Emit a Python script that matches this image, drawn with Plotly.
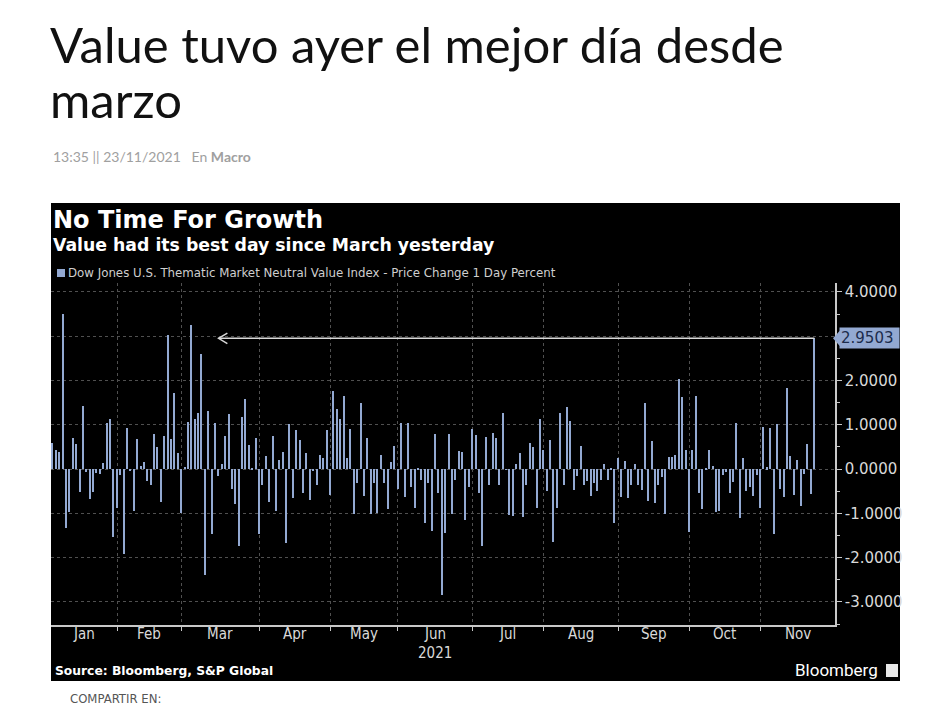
import plotly.graph_objects as go

# ---- data: Dow Jones U.S. Thematic Market Neutral Value Index, 1 day % change ----
jan = [0.58, 0.43, 0.39, 3.50, -1.32, -0.97, 0.70, 0.56, -0.51, 1.42, -0.06, -0.68, -0.51, -0.08,
       -0.11, 0.13, 1.05, 1.12, -1.54]
feb = [-0.89, -0.14, -1.92, 0.92, -0.04, -0.94, 0.67, 0.07, 0.16, -0.27, -0.37, 0.80, 0.50, -0.74,
       0.75, 3.03, 0.67, 1.71, 0.37]
mar = [-1.00, 0.05, 1.07, 3.26, 1.14, 1.27, 2.59, -2.39, 1.31, -1.47, 1.03, -0.16, 0.11, 0.75,
       1.24, -0.46, -0.79, -1.74, 1.17, 1.59, 0.54, 0.02, 0.71]
apr = [-1.47, -0.36, 0.30, -0.74, 0.75, -0.94, 0.20, 0.39, -1.68, 1.01, -0.66, 0.89, 0.65, -0.53,
       0.37, -0.70, -0.04, -0.35, 0.32, 0.24, 0.88]
may = [-0.59, 1.77, 1.35, 1.14, 1.65, 0.24, 0.90, -1.02, -0.31, 1.50, -0.61, 0.71, -1.02, -0.31,
       -1.00, 0.32, -0.31, -0.91, 0.17, 0.53]
jun = [-0.46, 1.03, -0.62, 1.05, -0.40, -0.89, 0.01, -0.25, -1.21, -0.31, -1.39, 0.79, -0.55,
       -2.84, -1.44, 0.80, -1.02, -0.25, 0.41, 0.39, -1.15, -0.40]
jul = [0.90, 0.77, -0.55, -1.74, 0.73, -0.37, 0.82, 0.69, -0.35, 1.26, -0.02, -1.04, -1.06, 0.11,
       0.37, -1.08, -0.37, 0.59, 0.49, -0.89, 1.12]
aug = [0.43, -0.49, 0.65, -1.64, -0.89, 1.27, -0.36, 1.39, 1.09, -0.47, -0.16, 0.52, -0.36, -0.27,
       -0.61, -0.31, -0.49, -0.25, 0.11, -0.25, 0.03, -1.21]
sep = [0.26, -0.62, 0.19, -0.66, -0.36, 0.11, -0.36, -0.47, 1.50, -0.72, 0.63, -0.76, -0.36, -0.17,
       -1.02, 0.28, 0.28, 0.32, 2.03, 1.63, 0.44]
oct_ = [-1.41, 0.44, 1.65, -0.55, -0.91, 0.03, 0.43, 0.07, -0.96, -0.94, -0.14, -0.06, -0.55, -0.29,
        1.05, -1.11, 0.26, -0.50, -0.40, -0.61, -0.14]
nov = [-0.87, 0.95, 0.04, 0.92, -1.47, 1.01, -0.46, -0.64, 1.83, 0.30, -0.59, 0.20, -0.83, -0.11,
       0.56, -0.57, 2.9503]

month_names = ['Jan', 'Feb', 'Mar', 'Apr', 'May', 'Jun', 'Jul', 'Aug', 'Sep', 'Oct', 'Nov']
months = [jan, feb, mar, apr, may, jun, jul, aug, sep, oct_, nov]
y_ticks = [-3, -2, -1, 0, 1, 2, 3, 4]

values = [v for m in months for v in m]
day_idx = list(range(len(values)))
month_start = []
n = 0
for m in months:
    month_start.append(n)
    n += len(m)

X_MIN, X_MAX = -0.5, len(values) + 5.1
edges = month_start + [X_MAX]
edges[0] = X_MIN
month_mid = [(edges[i] + edges[i + 1]) / 2 for i in range(len(months))]

# the page body has an 8px margin, so the figure is a bit smaller than the window
OFF = 8
W, H = 931 - OFF, 709 - OFF
def px(x):
    return (x - OFF) / W
def py(y):
    return 1 - (y - OFF) / H

BAR = '#93a9d2'
GRID = '#505050'
AXC = '#c8c8c8'
LBL = '#d9d9d9'
NARROW = 'Liberation Sans Narrow, DejaVu Sans Condensed, sans-serif'
LAST = values[-1]
ARROW_TIP = 49

# the last-value box sits on top of the 3.0000 label, so that one is left blank
tick_text = ['' if t == 3 else '%.4f' % t for t in y_ticks]

fig = go.Figure()
fig.add_trace(go.Bar(x=day_idx, y=values, marker=dict(color=BAR, line_width=0),
                     width=0.42, showlegend=False, hoverinfo='x+y'))

fig.update_layout(
    width=W, height=H,
    margin=dict(l=0, r=0, t=0, b=0),
    paper_bgcolor='white', plot_bgcolor='black',
    bargap=0,
)
fig.update_xaxes(
    domain=[px(51), px(835)], range=[X_MIN, X_MAX],
    showticklabels=False, ticks='',
    showgrid=False, zeroline=False,
    showline=True, linecolor=AXC, linewidth=1.5,
    minor=dict(tickvals=month_start[1:], ticks='outside', ticklen=4, tickcolor=AXC,
               showgrid=True, gridcolor=GRID, griddash='dot', gridwidth=1),
)
fig.update_yaxes(
    domain=[py(625), py(283)], range=[-3.52, 4.2], side='right',
    tickvals=y_ticks, ticktext=tick_text,
    ticks='outside', ticklen=5, tickcolor=AXC,
    tickfont=dict(family='DejaVu Sans, Verdana, sans-serif', size=15, color=LBL),
    showgrid=True, gridcolor=GRID, griddash='dot', gridwidth=1,
    zeroline=False, showline=True, linecolor=AXC, linewidth=1.5,
    minor=dict(dtick=0.5, ticks='outside', ticklen=3, tickcolor=AXC, showgrid=False),
)

# month labels
for name, mid in zip(month_names, month_mid):
    fig.add_annotation(xref='x', yref='paper', x=mid, y=py(634), xanchor='center', yanchor='middle',
                       text=name, showarrow=False, font=dict(family=NARROW, size=15, color=LBL))
fig.add_annotation(xref='x', yref='paper', x=month_mid[5], y=py(653), xanchor='center', yanchor='middle',
                   text='2021', showarrow=False, font=dict(family=NARROW, size=15, color=LBL))

# black chart panel
fig.add_shape(type='rect', xref='paper', yref='paper', x0=px(51), x1=px(900), y0=py(681), y1=py(203),
              fillcolor='black', line_width=0, layer='below')

# arrow back to the last higher day
fig.add_shape(type='line', xref='x', yref='y', x0=ARROW_TIP, x1=day_idx[-1], y0=LAST, y1=LAST,
              line=dict(color='#d8d8d8', width=1.5))
fig.add_shape(type='path', xref='x', yref='y',
              path='M %f,%f L %f,%f L %f,%f' % (ARROW_TIP + 2.6, LAST + 0.12, ARROW_TIP, LAST,
                                               ARROW_TIP + 2.6, LAST - 0.12),
              line=dict(color='#d8d8d8', width=1.5))

# last value label on the axis
fig.add_shape(type='path', xref='paper', yref='y',
              path='M %f,%f L %f,%f L %f,%f Z' % (px(833), LAST, px(840), LAST + 0.18, px(840), LAST - 0.18),
              fillcolor=BAR, line_width=0)
fig.add_annotation(xref='paper', yref='y', x=px(839), y=LAST, xanchor='left', yanchor='middle',
                   text='%.4f ' % LAST, showarrow=False, bgcolor=BAR, borderpad=1,
                   font=dict(family='DejaVu Sans, Verdana, sans-serif', size=15, color='#1c2c4c'))

# chart header
fig.add_annotation(xref='paper', yref='paper', x=px(51), y=py(220), xanchor='left', yanchor='middle',
                   text='<b>No Time For Growth</b>', showarrow=False,
                   font=dict(family='DejaVu Sans', size=24, color='white'))
fig.add_annotation(xref='paper', yref='paper', x=px(51), y=py(245), xanchor='left', yanchor='middle',
                   text='<b>Value had its best day since March yesterday</b>', showarrow=False,
                   font=dict(family='DejaVu Sans', size=17.3, color='white'))
fig.add_shape(type='rect', xref='paper', yref='paper', x0=px(57), x1=px(65), y0=py(277), y1=py(269),
              fillcolor=BAR, line_width=0)
fig.add_annotation(xref='paper', yref='paper', x=px(66), y=py(273), xanchor='left', yanchor='middle',
                   text='Dow Jones U.S. Thematic Market Neutral Value Index - Price Change 1 Day Percent',
                   showarrow=False, font=dict(family='DejaVu Sans', size=11.8, color='#cfcfcf'))

# footer
fig.add_annotation(xref='paper', yref='paper', x=px(53), y=py(671), xanchor='left', yanchor='middle',
                   text='<b>Source: Bloomberg, S&P Global</b>', showarrow=False,
                   font=dict(family='DejaVu Sans', size=12.3, color='white'))
fig.add_annotation(xref='paper', yref='paper', x=px(880), y=py(670), xanchor='right', yanchor='middle',
                   text='Bloomberg', showarrow=False,
                   font=dict(family='Roboto', size=17, color='white'))
fig.add_shape(type='rect', xref='paper', yref='paper', x0=px(886), x1=px(898), y0=py(677), y1=py(664),
              fillcolor='#e8e8e8', line_width=0)

# page text around the chart
fig.add_annotation(xref='paper', yref='paper', x=px(48), y=py(44), xanchor='left', yanchor='middle',
                   text='Value tuvo ayer el mejor día desde', showarrow=False,
                   font=dict(family='Lato', size=49, color='#111111'))
fig.add_annotation(xref='paper', yref='paper', x=px(48), y=py(99), xanchor='left', yanchor='middle',
                   text='marzo', showarrow=False,
                   font=dict(family='Lato', size=49, color='#111111'))
fig.add_annotation(xref='paper', yref='paper', x=px(51), y=py(157), xanchor='left', yanchor='middle',
                   text='13:35 || 23/11/2021 &nbsp; En <b>Macro</b>', showarrow=False,
                   font=dict(family='Lato', size=14, color='#a0a0a0'))
fig.add_annotation(xref='paper', yref='paper', x=px(68), y=py(708), xanchor='left', yanchor='bottom',
                   text='COMPARTIR EN:', showarrow=False,
                   font=dict(family=NARROW, size=13, color='#555555'))

fig.write_html("out.html")
